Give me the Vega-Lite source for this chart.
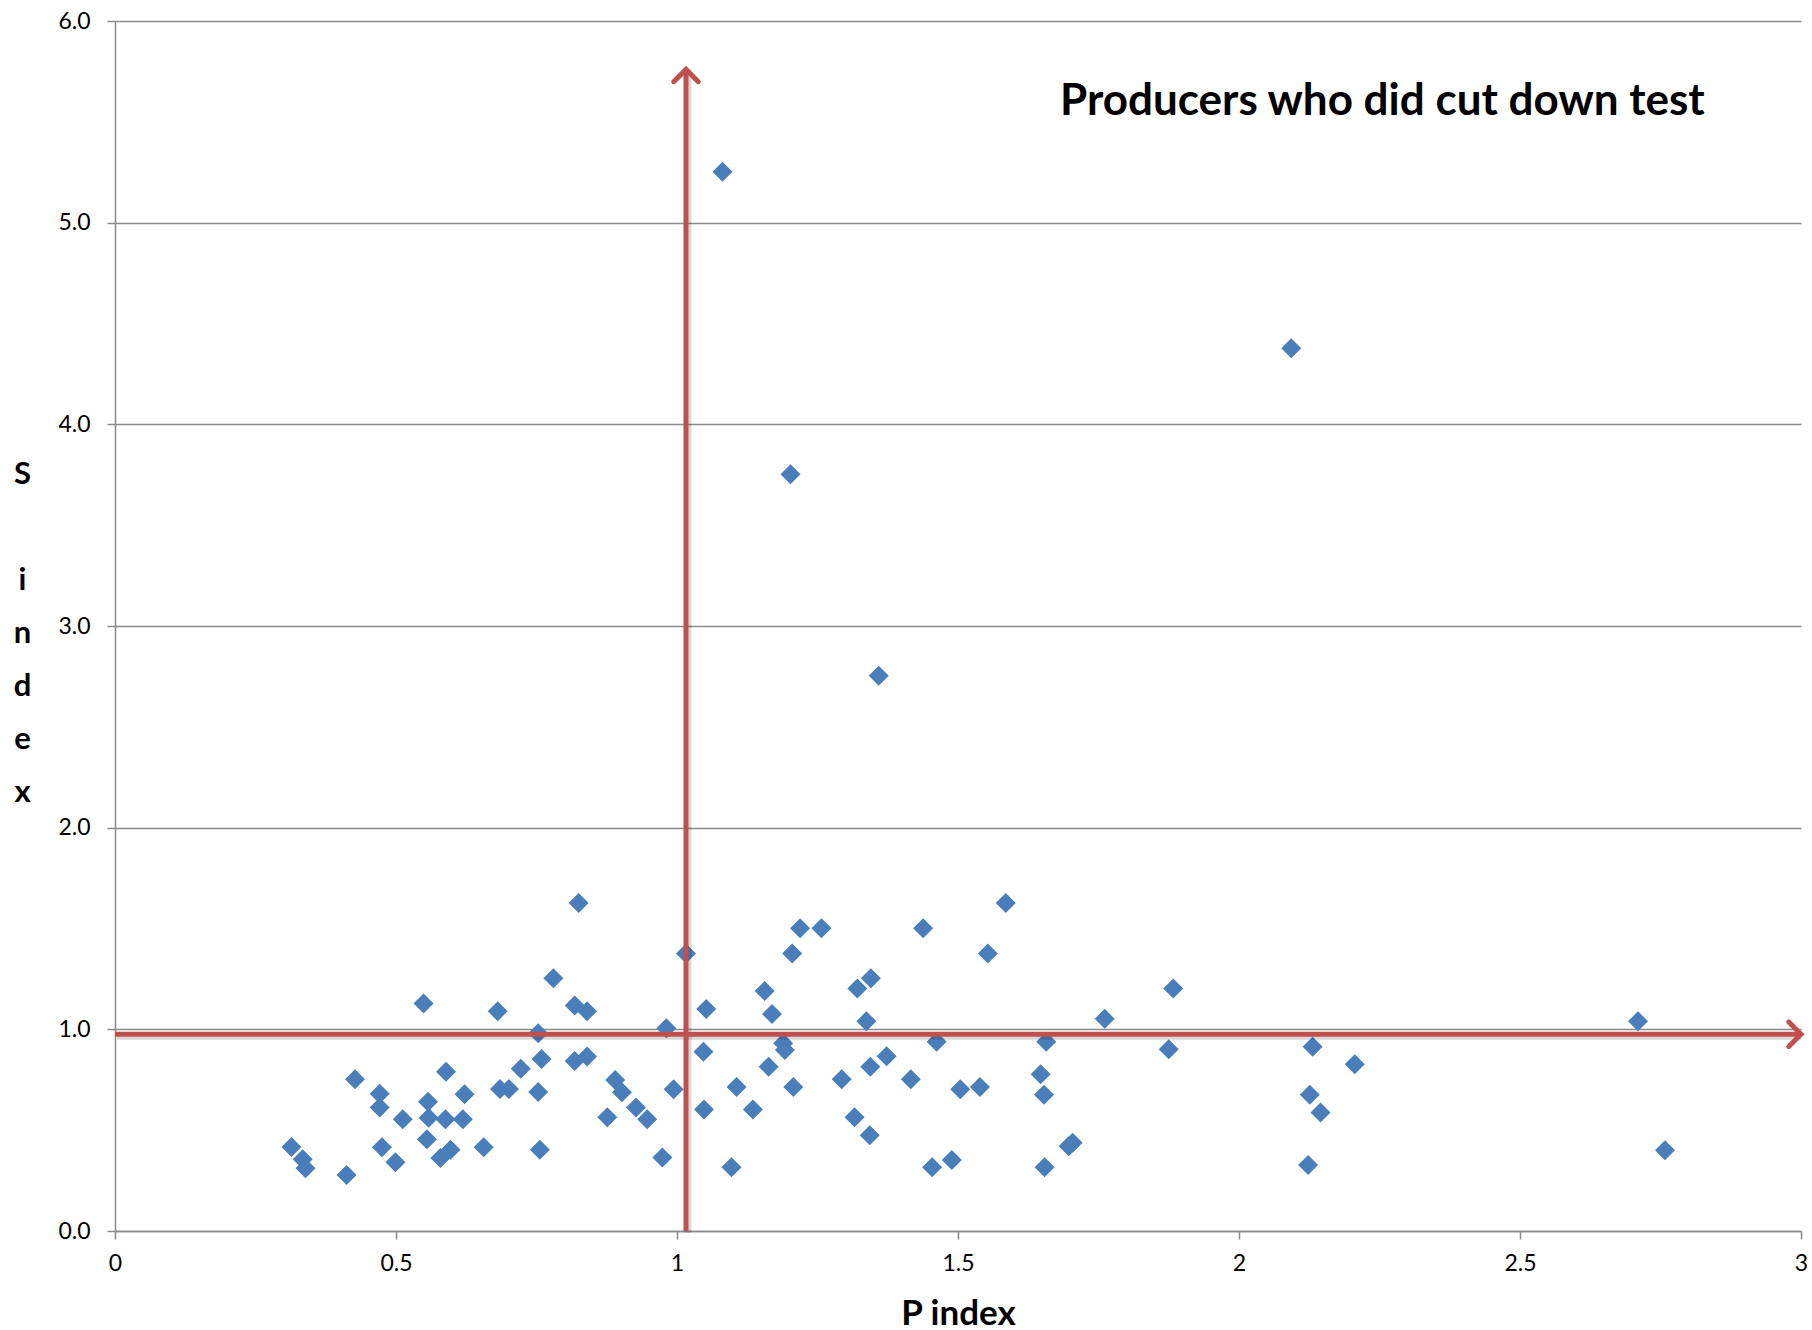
{
  "$schema": "https://vega.github.io/schema/vega-lite/v6.json",
  "width": 1686,
  "height": 1210,
  "autosize": {"type": "none"},
  "padding": {"left": 115, "top": 21, "right": 11, "bottom": 99},
  "background": "white",
  "config": {"view": {"stroke": null}, "font": "Lato"},
  "datasets": {
    "points": [
      {"x": 0.825, "y": 1.627}, {"x": 0.780, "y": 1.253}, {"x": 0.549, "y": 1.128}, {"x": 0.681, "y": 1.090},
      {"x": 0.818, "y": 1.118}, {"x": 0.840, "y": 1.090}, {"x": 0.981, "y": 1.005}, {"x": 0.753, "y": 0.981},
      {"x": 0.759, "y": 0.853}, {"x": 0.818, "y": 0.843}, {"x": 0.840, "y": 0.865}, {"x": 0.722, "y": 0.804},
      {"x": 0.589, "y": 0.790}, {"x": 0.427, "y": 0.752}, {"x": 0.890, "y": 0.749}, {"x": 0.685, "y": 0.704},
      {"x": 0.701, "y": 0.704}, {"x": 0.753, "y": 0.689}, {"x": 0.902, "y": 0.688}, {"x": 0.994, "y": 0.703},
      {"x": 0.471, "y": 0.680}, {"x": 0.622, "y": 0.678}, {"x": 0.557, "y": 0.641}, {"x": 0.471, "y": 0.613},
      {"x": 0.927, "y": 0.613}, {"x": 0.512, "y": 0.554}, {"x": 0.558, "y": 0.562}, {"x": 0.588, "y": 0.554},
      {"x": 0.619, "y": 0.554}, {"x": 0.876, "y": 0.564}, {"x": 0.947, "y": 0.554}, {"x": 0.555, "y": 0.455},
      {"x": 0.314, "y": 0.417}, {"x": 0.475, "y": 0.415}, {"x": 0.656, "y": 0.415}, {"x": 0.756, "y": 0.403},
      {"x": 0.597, "y": 0.403}, {"x": 0.579, "y": 0.362}, {"x": 0.334, "y": 0.356}, {"x": 0.339, "y": 0.311},
      {"x": 0.499, "y": 0.341}, {"x": 0.974, "y": 0.364}, {"x": 0.412, "y": 0.278},
      {"x": 1.081, "y": 5.253}, {"x": 2.093, "y": 4.377}, {"x": 1.202, "y": 3.753}, {"x": 1.359, "y": 2.753},
      {"x": 1.585, "y": 1.627}, {"x": 1.219, "y": 1.501}, {"x": 1.257, "y": 1.501}, {"x": 1.438, "y": 1.501},
      {"x": 1.016, "y": 1.376}, {"x": 1.205, "y": 1.376}, {"x": 1.553, "y": 1.376}, {"x": 1.345, "y": 1.253},
      {"x": 1.321, "y": 1.202}, {"x": 1.156, "y": 1.190}, {"x": 1.052, "y": 1.101}, {"x": 1.169, "y": 1.076},
      {"x": 1.337, "y": 1.040}, {"x": 1.761, "y": 1.052}, {"x": 1.462, "y": 0.939}, {"x": 1.657, "y": 0.939},
      {"x": 1.189, "y": 0.931}, {"x": 1.192, "y": 0.898}, {"x": 1.047, "y": 0.889}, {"x": 1.373, "y": 0.866},
      {"x": 1.163, "y": 0.815}, {"x": 1.344, "y": 0.815}, {"x": 1.293, "y": 0.752}, {"x": 1.416, "y": 0.752},
      {"x": 1.647, "y": 0.777}, {"x": 1.106, "y": 0.714}, {"x": 1.207, "y": 0.714}, {"x": 1.504, "y": 0.703},
      {"x": 1.539, "y": 0.714}, {"x": 1.653, "y": 0.676}, {"x": 1.048, "y": 0.602}, {"x": 1.135, "y": 0.602},
      {"x": 1.316, "y": 0.564}, {"x": 1.343, "y": 0.475}, {"x": 1.097, "y": 0.316}, {"x": 1.454, "y": 0.316},
      {"x": 1.489, "y": 0.352}, {"x": 1.654, "y": 0.316}, {"x": 1.697, "y": 0.420}, {"x": 1.704, "y": 0.438},
      {"x": 1.883, "y": 1.202}, {"x": 1.875, "y": 0.901}, {"x": 2.131, "y": 0.914}, {"x": 2.206, "y": 0.827},
      {"x": 2.126, "y": 0.676}, {"x": 2.145, "y": 0.587}, {"x": 2.123, "y": 0.327}, {"x": 2.710, "y": 1.040},
      {"x": 2.758, "y": 0.400}
    ],
    "vline": [{"x": 1.016, "y": 0, "y2": 5.76}],
    "hline": [{"x": 0, "x2": 3.0, "y": 0.976}],
    "headUp": [{"x": 1.016, "y": 5.76}],
    "headRight": [{"x": 3.0, "y": 0.976}],
    "label": [{"x": 2.255, "y": 5.536, "text": "Producers who did cut down test"}]
  },
  "encoding": {
    "x": {
      "field": "x", "type": "quantitative",
      "scale": {"domain": [0, 3], "nice": false, "zero": false},
      "axis": {
        "title": "P index",
        "values": [0, 0.5, 1, 1.5, 2, 2.5, 3],
        "format": "~f",
        "grid": false,
        "domainColor": "#8a8a8a", "domainWidth": 1.5,
        "tickColor": "#8a8a8a", "tickWidth": 1.5, "tickSize": 8,
        "labelFont": "Lato", "labelFontSize": 23, "labelColor": "#000000", "labelPadding": 13,
        "labelFlush": false, "labelOverlap": false,
        "titleFont": "Lato", "titleFontSize": 35, "titleFontWeight": "bold", "titleColor": "#000000",
        "titleBaseline": "alphabetic", "titleY": 93
      }
    },
    "y": {
      "field": "y", "type": "quantitative",
      "scale": {"domain": [0, 6], "nice": false, "zero": false},
      "axis": {
        "title": ["S", "\u2800", "i", "n", "d", "e", "x"],
        "values": [0, 1, 2, 3, 4, 5, 6],
        "format": ".1f",
        "grid": true, "gridColor": "#8a8a8a", "gridWidth": 1.5,
        "domainColor": "#8a8a8a", "domainWidth": 1.5,
        "tickColor": "#8a8a8a", "tickWidth": 1.5, "tickSize": 8,
        "labelFont": "Lato", "labelFontSize": 23, "labelColor": "#000000", "labelPadding": 17,
        "labelFlush": false, "labelOverlap": false,
        "titleFont": "Lato", "titleFontSize": 31, "titleFontWeight": "bold", "titleColor": "#000000",
        "titleAngle": 0, "titleAlign": "center", "titleBaseline": "middle",
        "titleX": -93, "titleY": 453, "titleLineHeight": 53
      }
    }
  },
  "layer": [
    {
      "data": {"name": "points"},
      "mark": {"type": "point", "shape": "diamond", "filled": true, "size": 400, "color": "#4A7EBB", "opacity": 1, "strokeWidth": 0}
    },
    {
      "data": {"name": "vline"},
      "mark": {"type": "rule", "color": "#000000", "opacity": 0.15, "strokeWidth": 7, "xOffset": 2, "yOffset": 2},
      "encoding": {"y2": {"field": "y2"}}
    },
    {
      "data": {"name": "hline"},
      "mark": {"type": "rule", "color": "#000000", "opacity": 0.15, "strokeWidth": 7, "xOffset": 2, "yOffset": 2},
      "encoding": {"x2": {"field": "x2"}}
    },
    {
      "data": {"name": "vline"},
      "mark": {"type": "rule", "color": "#C0504D", "strokeWidth": 5},
      "encoding": {"y2": {"field": "y2"}}
    },
    {
      "data": {"name": "hline"},
      "mark": {"type": "rule", "color": "#C0504D", "strokeWidth": 5},
      "encoding": {"x2": {"field": "x2"}}
    },
    {
      "data": {"name": "headUp"},
      "mark": {"type": "point", "shape": "M-1,1L0,0L1,1", "filled": false, "size": 600, "stroke": "#C0504D", "strokeWidth": 5, "strokeCap": "round", "opacity": 1}
    },
    {
      "data": {"name": "headRight"},
      "mark": {"type": "point", "shape": "M-1,-1L0,0L-1,1", "filled": false, "size": 600, "stroke": "#C0504D", "strokeWidth": 5, "strokeCap": "round", "opacity": 1}
    },
    {
      "data": {"name": "label"},
      "mark": {"type": "text", "font": "Lato", "fontSize": 44, "fontWeight": "bold", "align": "center", "baseline": "alphabetic", "color": "#000000"},
      "encoding": {"text": {"field": "text"}}
    }
  ]
}
